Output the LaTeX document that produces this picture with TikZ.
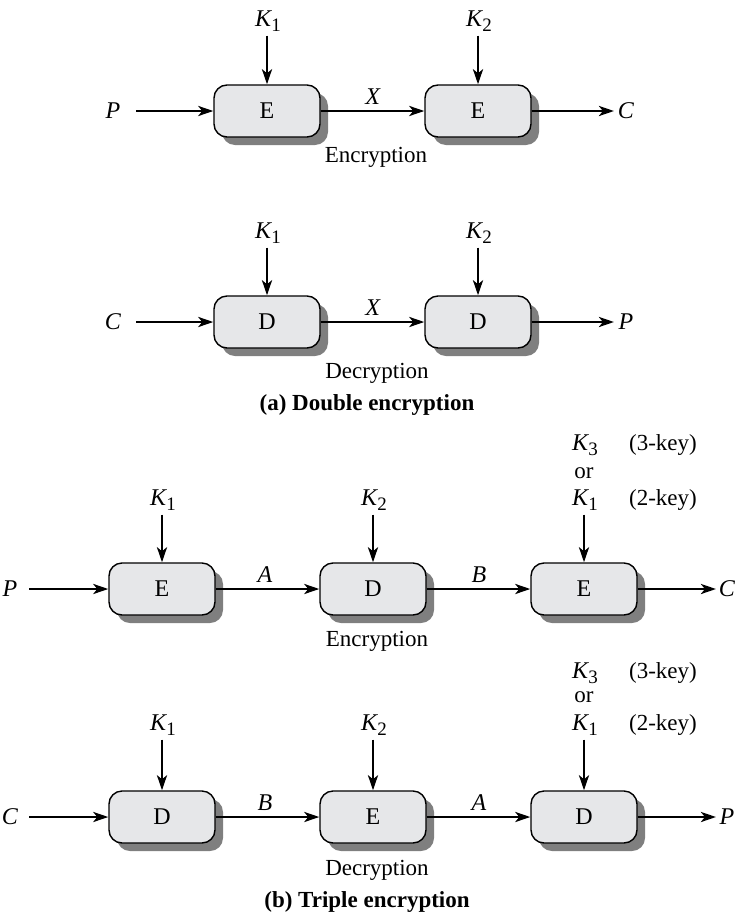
\documentclass[tikz,border=0pt]{standalone}
\usepackage{fontspec}
\setmainfont{Liberation Serif}
\usetikzlibrary{arrows.meta,shadows}
\definecolor{boxgray}{HTML}{E6E7E9}
\definecolor{shadowgray}{HTML}{7F7F7F}
\newcommand\Kk[1]{\textit{K}\kern-0.3pt\raisebox{-0.45ex}{\fontsize{9.5}{10}\selectfont #1}}
\begin{document}
\begin{tikzpicture}[x=0.5pt,y=-0.5pt,
  blk/.style={draw=black, line width=0.7pt, fill=boxgray, rounded corners=6.5pt,
    minimum width=53pt, minimum height=26pt, inner sep=0pt,
    font=\fontsize{12}{13}\selectfont,
    drop shadow={shadow xshift=4pt, shadow yshift=-4pt, fill=shadowgray, opacity=1}},
  lbl/.style={inner sep=2pt, font=\fontsize{12}{13}\selectfont},
  txt/.style={inner sep=2pt, font=\fontsize{11.5}{13}\selectfont},
  ttl/.style={inner sep=2pt, font=\fontsize{11.5}{13}\selectfont\bfseries},
  arr/.style={line width=1.4pt, -{Stealth[length=7.5pt,width=5pt,inset=2pt]}}
]
\useasboundingbox (0,0) rectangle (736,916);

% ---------- (a) Encryption ----------
\node[blk] (ae1) at (267,111) {E};
\node[blk] (ae2) at (478,111) {E};
\node[lbl] (aeP) at (113,111) {\textit{P}};
\node[lbl] (aeC) at (626,111) {\textit{C}};
\coordinate (aePs) at (136,111);
\coordinate (aeCe) at (614,111);
\node[lbl] (aek1) at (268,21) {\Kk1};
\node[lbl] (aek2) at (479,21) {\Kk2};
\node[lbl] (aeX) at (373,97) {\textit{X}};
\node[txt] (aeEnc) at (376,157) {Encryption};
\draw[arr] (aePs) -- (ae1);
\draw[arr] (ae1) -- (ae2);
\draw[arr] (ae2) -- (aeCe);
\draw[arr] (aek1.south -| ae1) -- (ae1);
\draw[arr] (aek2.south -| ae2) -- (ae2);

% ---------- (a) Decryption ----------
\node[blk] (ad1) at (267,322) {D};
\node[blk] (ad2) at (478,322) {D};
\node[lbl] (adC) at (113,322) {\textit{C}};
\node[lbl] (adP) at (626,322) {\textit{P}};
\coordinate (adCs) at (136,322);
\coordinate (adPe) at (614,322);
\node[lbl] (adk1) at (268,233) {\Kk1};
\node[lbl] (adk2) at (479,233) {\Kk2};
\node[lbl] (adX) at (373,308) {\textit{X}};
\node[txt] (adDec) at (377,373) {Decryption};
\node[ttl] (ta) at (367,405) {(a) Double encryption};
\draw[arr] (adCs) -- (ad1);
\draw[arr] (ad1) -- (ad2);
\draw[arr] (ad2) -- (adPe);
\draw[arr] (adk1.south -| ad1) -- (ad1);
\draw[arr] (adk2.south -| ad2) -- (ad2);

% ---------- (b) Encryption ----------
\node[blk] (be1) at (162,589) {E};
\node[blk] (be2) at (373,589) {D};
\node[blk] (be3) at (584,589) {E};
\node[lbl] (beP) at (10,589) {\textit{P}};
\node[lbl] (beC) at (727,589) {\textit{C}};
\coordinate (bePs) at (29,589);
\coordinate (beCe) at (716,589);
\node[lbl] (bek1) at (163,500) {\Kk1};
\node[lbl] (bek2) at (374,500) {\Kk2};
\node[lbl] (bek3) at (585,445) {\Kk3};
\node[txt] (beor) at (584,473) {or};
\node[lbl] (bek1b) at (585,500) {\Kk1};
\node[txt] (be3k) at (663,445) {(3-key)};
\node[txt] (be2k) at (663,500) {(2-key)};
\node[lbl] (beA) at (265,575) {\textit{A}};
\node[lbl] (beB) at (479,575) {\textit{B}};
\node[txt] (beEnc) at (377,641) {Encryption};
\draw[arr] (bePs) -- (be1);
\draw[arr] (be1) -- (be2);
\draw[arr] (be2) -- (be3);
\draw[arr] (be3) -- (beCe);
\draw[arr] (bek1.south -| be1) -- (be1);
\draw[arr] (bek2.south -| be2) -- (be2);
\draw[arr] (bek1b.south -| be3) -- (be3);

% ---------- (b) Decryption ----------
\node[blk] (bd1) at (162,817) {D};
\node[blk] (bd2) at (373,817) {E};
\node[blk] (bd3) at (584,817) {D};
\node[lbl] (bdC) at (10,817) {\textit{C}};
\node[lbl] (bdP) at (727,817) {\textit{P}};
\coordinate (bdCs) at (29,817);
\coordinate (bdPe) at (716,817);
\node[lbl] (bdk1) at (163,725) {\Kk1};
\node[lbl] (bdk2) at (374,725) {\Kk2};
\node[lbl] (bdk3) at (585,673) {\Kk3};
\node[txt] (bdor) at (584,697) {or};
\node[lbl] (bdk1b) at (585,725) {\Kk1};
\node[txt] (bd3k) at (663,673) {(3-key)};
\node[txt] (bd2k) at (663,725) {(2-key)};
\node[lbl] (bdB) at (265,803) {\textit{B}};
\node[lbl] (bdA) at (479,803) {\textit{A}};
\node[txt] (bdDec) at (377,870) {Decryption};
\node[ttl] (tb) at (367,902) {(b) Triple encryption};
\draw[arr] (bdCs) -- (bd1);
\draw[arr] (bd1) -- (bd2);
\draw[arr] (bd2) -- (bd3);
\draw[arr] (bd3) -- (bdPe);
\draw[arr] (bdk1.south -| bd1) -- (bd1);
\draw[arr] (bdk2.south -| bd2) -- (bd2);
\draw[arr] (bdk1b.south -| bd3) -- (bd3);
\end{tikzpicture}
\end{document}
